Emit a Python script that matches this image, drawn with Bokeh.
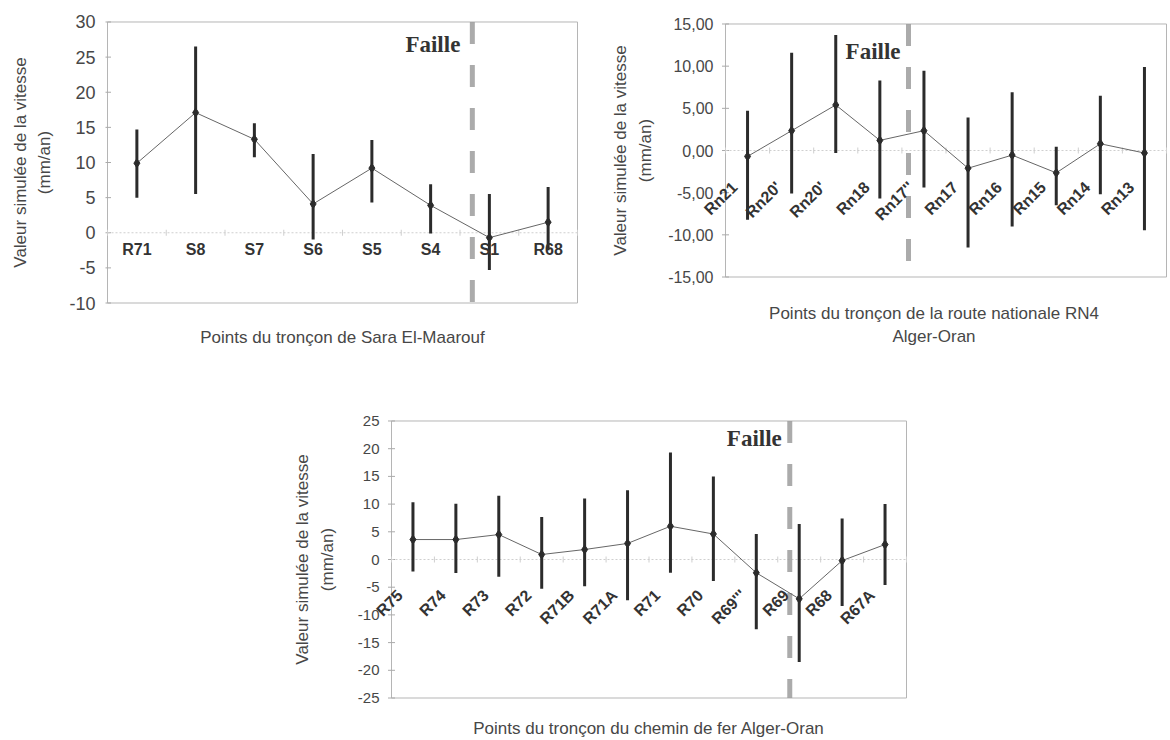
import math
from bokeh.plotting import figure
from bokeh.layouts import column, row
from bokeh.models import Spacer, FixedTicker, Label
from bokeh.core.properties import value
from bokeh.embed import file_html
from bokeh.resources import INLINE

# ---------------- data ----------------
sara_labels = ["R71", "S8", "S7", "S6", "S5", "S4", "S1", "R68"]
sara_val = [9.9, 17.1, 13.3, 4.1, 9.2, 3.9, -0.7, 1.5]
sara_low = [5.0, 5.5, 10.75, -0.95, 4.3, -0.1, -5.3, -2.5]
sara_high = [14.7, 26.5, 15.6, 11.2, 13.2, 6.9, 5.5, 6.5]
sara_yticks = [-10, -5, 0, 5, 10, 15, 20, 25, 30]
sara_yticklabels = ["-10", "-5", "0", "5", "10", "15", "20", "25", "30"]
sara_fault = 6.21

rn_labels = ["Rn21", "Rn20'", "Rn20'", "Rn18", "Rn17''", "Rn17", "Rn16", "Rn15", "Rn14", "Rn13"]
rn_val = [-0.7, 2.35, 5.4, 1.2, 2.35, -2.1, -0.55, -2.65, 0.8, -0.3]
rn_low = [-8.2, -5.1, -0.3, -5.7, -4.4, -11.5, -9.0, -6.5, -5.2, -9.45]
rn_high = [4.7, 11.6, 13.7, 8.3, 9.45, 3.9, 6.9, 0.45, 6.5, 9.9]
rn_yticks = [-15, -10, -5, 0, 5, 10, 15]
rn_yticklabels = ["-15,00", "-10,00", "-5,00", "0,00", "5,00", "10,00", "15,00"]
rn_fault = 4.15

cf_labels = ["R75", "R74", "R73", "R72", "R71B", "R71A", "R71", "R70", "R69'''", "R69", "R68", "R67A"]
cf_val = [3.6, 3.6, 4.5, 0.9, 1.8, 2.9, 6.0, 4.6, -2.4, -7.1, -0.2, 2.7]
cf_low = [-2.15, -2.45, -3.1, -5.3, -4.85, -7.35, -2.4, -3.9, -12.6, -18.5, -8.4, -4.6]
cf_high = [10.35, 10.05, 11.5, 7.65, 11.0, 12.5, 19.3, 15.0, 4.6, 6.4, 7.4, 10.0]
cf_yticks = [-25, -20, -15, -10, -5, 0, 5, 10, 15, 20, 25]
cf_yticklabels = ["-25", "-20", "-15", "-10", "-5", "0", "5", "10", "15", "20", "25"]
cf_fault = 9.28

Y_TITLE = "Valeur simulée de la vitesse\n(mm/an)"
SANS = "Liberation Sans"
SERIF = "Liberation Serif"
DARK = "#2b2b2b"
FRAME = "#b5b5b5"


def chart(labels, vals, low, high, yticks, yticklabels, fault_x, x_title,
          width, height, bl, br, bt, bb, pad_l, pad_r, tick_fs, lab_fs, rotated,
          lab_dx, lab_dy, faille_dx, faille_dy, ytitle_standoff, xtitle_standoff):
    n = len(labels)
    xs = [i + 0.5 for i in range(n)]
    ymin, ymax = yticks[0], yticks[-1]
    # the plotting frame is a bit larger than the drawn box so that rotated
    # category labels can overflow to the left (as in the original chart)
    frame_w = width - bl - br
    frame_h = height - bt - bb
    xpx = n / frame_w
    ypx = (ymax - ymin) / frame_h
    p = figure(width=width, height=height,
               x_range=(-pad_l * xpx, n + pad_r * xpx),
               y_range=(ymin - 1.5 * ypx, ymax + 1.5 * ypx),
               output_backend="svg", toolbar_location=None,
               min_border_left=bl - pad_l, min_border_right=br - pad_r,
               min_border_top=bt - 1, min_border_bottom=bb - 1)
    p.grid.visible = False
    p.outline_line_color = None
    p.background_fill_color = "white"
    p.border_fill_color = "white"

    ya = p.yaxis[0]
    ya.ticker = FixedTicker(ticks=yticks)
    ya.major_label_overrides = {t: s for t, s in zip(yticks, yticklabels)}
    ya.major_label_text_font = SANS
    ya.major_label_text_font_size = f"{tick_fs}px"
    ya.major_label_text_color = "#474747"
    ya.major_tick_out = 0
    ya.major_tick_in = 0
    ya.minor_tick_out = 0
    ya.minor_tick_in = 0
    ya.axis_line_color = None
    ya.major_label_standoff = 12 - pad_l
    ya.axis_label = Y_TITLE
    ya.axis_label_text_font = SANS
    ya.axis_label_text_font_style = "normal"
    ya.axis_label_text_font_size = "17px"
    ya.axis_label_text_color = "#474747"
    ya.axis_label_text_line_height = 1.3
    ya.axis_label_standoff = ytitle_standoff

    xa = p.xaxis[0]
    xa.ticker = FixedTicker(ticks=[])
    xa.major_tick_out = 0
    xa.minor_tick_out = 0
    xa.axis_line_color = None
    xa.major_label_text_font_size = "0px"
    xa.axis_label = x_title
    xa.axis_label_text_font = SANS
    xa.axis_label_text_font_style = "normal"
    xa.axis_label_text_font_size = "17px"
    xa.axis_label_text_color = "#474747"
    xa.axis_label_text_line_height = 1.25
    xa.axis_label_standoff = xtitle_standoff + 1

    # plot-area box and y tick marks
    p.quad(left=[0], right=[n], bottom=[ymin], top=[ymax],
           fill_color=None, line_color=FRAME, line_width=1)
    p.scatter([0] * len(yticks), yticks, marker="dash", size=7,
              line_color="#aaaaaa", line_width=1)

    # category axis crossing at zero
    p.line([0, n], [0, 0], line_color="#cfcfcf", line_width=1, line_dash="2 2")
    p.scatter(list(range(n + 1)), [0] * (n + 1), marker="dash", angle=math.pi / 2,
              size=6, line_color="#cfcfcf", line_width=1)

    # fault line
    p.segment(x0=[fault_x], y0=[ymax], x1=[fault_x], y1=[ymin],
              line_color="#9c9c9c", line_width=5, line_dash="22 21", line_alpha=0.85)
    p.text(x=[fault_x], y=[ymax], text=["Faille"],
           text_font=value(SERIF), text_font_style="bold", text_font_size="23px",
           text_color="#333333", text_align="right", text_baseline="middle",
           x_offset=faille_dx, y_offset=faille_dy)

    # series
    p.segment(x0=xs, y0=low, x1=xs, y1=high, line_color=DARK, line_width=3)
    p.line(xs, vals, line_color="#666666", line_width=1)
    p.scatter(xs, vals, marker="diamond", size=9, fill_color=DARK, line_color=DARK)

    # category labels
    for xv, lab in zip(xs, labels):
        kw = dict(x=xv, y=0, text=lab,
                  text_font=SANS, text_font_style="bold",
                  text_font_size=f"{lab_fs}px", text_color="#333333",
                  text_baseline="middle", x_offset=lab_dx, y_offset=lab_dy)
        if rotated:
            kw["angle"] = math.pi / 4
            kw["text_align"] = "right"
        else:
            kw["text_align"] = "center"
        p.add_layout(Label(**kw))
    return p


p1 = chart(sara_labels, sara_val, sara_low, sara_high, sara_yticks, sara_yticklabels,
           sara_fault, "Points du tronçon de Sara El-Maarouf",
           580, 370, 107, 3, 21, 67, 2, 2, 18, 16, False, 0, -17, -12, 23, 12, 22)
p2 = chart(rn_labels, rn_val, rn_low, rn_high, rn_yticks, rn_yticklabels,
           rn_fault, "Points du tronçon de la route nationale RN4\nAlger-Oran",
           590, 370, 145, 4, 23, 93, 26, 2, 16, 16, True, -13, -34, -8, 28, 10, 24)
p3 = chart(cf_labels, cf_val, cf_low, cf_high, cf_yticks, cf_yticklabels,
           cf_fault, "Points du tronçon du chemin de fer Alger-Oran",
           660, 370, 111, 34, 50, 41, 30, 30, 15, 16, True, -13, -33, -8, 18, 18, 18)

layout = column(row(column(p1), column(p2)),
                row(Spacer(width=280, height=370), column(p3)))

with open("out.html", "w") as f:
    f.write(file_html(layout, INLINE))
